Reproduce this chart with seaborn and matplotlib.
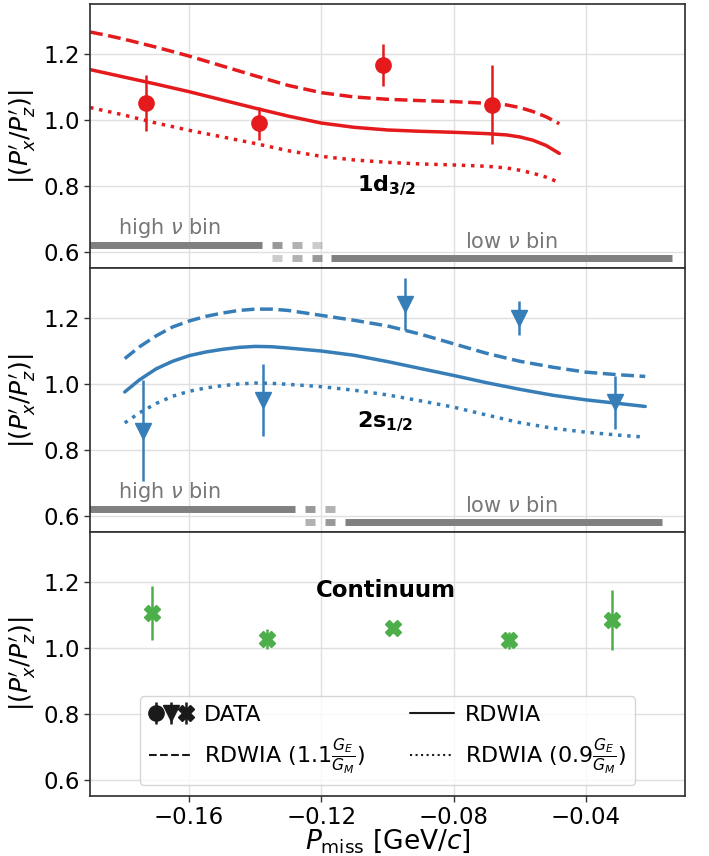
import numpy as np
import pandas as pd
import matplotlib
matplotlib.use('Agg')
import matplotlib.pyplot as plt
import seaborn as sns
from matplotlib.lines import Line2D
from matplotlib.legend_handler import HandlerTuple

# ---- data ----
# 1d3/2 data points
d_pmiss = [-0.173, -0.139, -0.1015, -0.0683]
d_ratio = [1.052, 0.990, 1.166, 1.045]
d_err = [0.085, 0.050, 0.063, 0.120]

# 2s1/2 data points
s_pmiss = [-0.174, -0.1378, -0.0946, -0.0601, -0.0313]
s_ratio = [0.858, 0.950, 1.242, 1.200, 0.944]
s_err = [0.153, 0.110, 0.078, 0.052, 0.080]

# continuum data points
c_pmiss = [-0.1712, -0.1365, -0.0984, -0.0632, -0.0321]
c_ratio = [1.105, 1.027, 1.058, 1.022, 1.085]
c_err = [0.081, 0.030, 0.015, 0.025, 0.091]

# RDWIA curves, 1d3/2
d_curve_x = [-0.190, -0.185, -0.180, -0.170, -0.160, -0.150, -0.140, -0.130, -0.120, -0.110,
             -0.100, -0.090, -0.080, -0.070, -0.064, -0.060, -0.056, -0.052, -0.048]
d_rdwia = [1.152, 1.141, 1.130, 1.108, 1.085, 1.060, 1.035, 1.011, 0.990, 0.977,
           0.969, 0.965, 0.962, 0.958, 0.954, 0.948, 0.938, 0.922, 0.898]
d_rdwia_11 = [1.266, 1.256, 1.245, 1.220, 1.193, 1.163, 1.133, 1.104, 1.082, 1.069,
              1.062, 1.058, 1.055, 1.050, 1.045, 1.037, 1.025, 1.009, 0.988]
d_rdwia_09 = [1.037, 1.026, 1.015, 0.990, 0.968, 0.948, 0.928, 0.906, 0.889, 0.878,
              0.871, 0.866, 0.863, 0.859, 0.854, 0.847, 0.838, 0.826, 0.810]

# RDWIA curves, 2s1/2
s_curve_x = [-0.1795, -0.175, -0.170, -0.165, -0.160, -0.155, -0.150, -0.145, -0.140, -0.135,
             -0.130, -0.120, -0.110, -0.100, -0.090, -0.080, -0.070, -0.060, -0.050, -0.040,
             -0.030, -0.022]
s_rdwia = [0.975, 1.012, 1.045, 1.068, 1.085, 1.096, 1.104, 1.110, 1.113, 1.112,
           1.108, 1.099, 1.086, 1.067, 1.046, 1.025, 1.003, 0.983, 0.965, 0.951,
           0.940, 0.931]
s_rdwia_11 = [1.076, 1.112, 1.145, 1.172, 1.190, 1.204, 1.214, 1.222, 1.226, 1.226,
              1.222, 1.207, 1.192, 1.175, 1.150, 1.121, 1.092, 1.068, 1.050, 1.035,
              1.027, 1.022]
s_rdwia_09 = [0.881, 0.912, 0.940, 0.962, 0.977, 0.987, 0.994, 0.999, 1.002, 1.001,
              0.998, 0.991, 0.980, 0.966, 0.948, 0.929, 0.905, 0.882, 0.865, 0.853,
              0.844, 0.838]

# nu-bin indicator bars: (start, end, alpha)
d_high_bin = [(-0.195, -0.138, 1.0), (-0.1349, -0.1319, 0.8), (-0.1289, -0.1258, 0.6), (-0.1228, -0.1198, 0.4)]
d_low_bin = [(-0.1349, -0.1319, 0.4), (-0.1289, -0.1258, 0.6), (-0.1228, -0.1198, 0.8), (-0.117, -0.014, 1.0)]
s_high_bin = [(-0.195, -0.128, 1.0), (-0.1249, -0.1219, 0.8), (-0.1189, -0.1159, 0.6)]
s_low_bin = [(-0.1249, -0.1219, 0.6), (-0.1189, -0.1159, 0.8), (-0.113, -0.017, 1.0)]

yticks = [0.6, 0.8, 1.0, 1.2]
xticks = [-0.16, -0.12, -0.08, -0.04]

sns.set_theme(style='whitegrid')
plt.rcParams['font.family'] = ['DejaVu Sans']
plt.rcParams['mathtext.fontset'] = 'dejavusans'
plt.rcParams['axes.edgecolor'] = '0.2'
plt.rcParams['axes.linewidth'] = 1.25
plt.rcParams['grid.color'] = '0.88'
for key in ['text.color', 'axes.labelcolor', 'xtick.color', 'ytick.color']:
    plt.rcParams[key] = 'black'

red, blue, green = sns.color_palette('Set1')[:3]

fig, axes = plt.subplots(3, 1, figsize=(7.09, 8.56), dpi=100, sharex=True)
fig.subplots_adjust(left=0.127, right=0.966, bottom=0.070, top=0.995, hspace=0)


def draw_curves(ax, x, y, y11, y09, color):
    df = pd.DataFrame({'x': x, 'y': y, 'y11': y11, 'y09': y09})
    sns.lineplot(data=df, x='x', y='y', ax=ax, color=color, lw=2.5, sort=False)
    sns.lineplot(data=df, x='x', y='y11', ax=ax, color=color, lw=2.5, ls='--', sort=False)
    sns.lineplot(data=df, x='x', y='y09', ax=ax, color=color, lw=2.5, ls=':', sort=False)


def draw_bins(ax, high, low):
    for x0, x1, a in high:
        ax.plot([x0, x1], [0.62, 0.62], color='gray', alpha=a, lw=5, solid_capstyle='butt', zorder=1)
    for x0, x1, a in low:
        ax.plot([x0, x1], [0.58, 0.58], color='gray', alpha=a, lw=5, solid_capstyle='butt', zorder=1)
    ax.text(-0.1816, 0.672, r'high $\nu$ bin', color='#777777', fontsize=15, ha='left', va='center')
    ax.text(-0.0766, 0.629, r'low $\nu$ bin', color='#777777', fontsize=15, ha='left', va='center')


# top: 1d3/2
ax = axes[0]
draw_curves(ax, d_curve_x, d_rdwia, d_rdwia_11, d_rdwia_09, red)
ax.errorbar(d_pmiss, d_ratio, yerr=d_err, fmt='o', color=red, ms=11, elinewidth=1.8, capsize=0, zorder=3)
draw_bins(ax, d_high_bin, d_low_bin)
ax.text(-0.1003, 0.80, r'$\mathbf{1d_{3/2}}$', fontsize=16, ha='center', va='center')

# middle: 2s1/2
ax = axes[1]
draw_curves(ax, s_curve_x, s_rdwia, s_rdwia_11, s_rdwia_09, blue)
ax.errorbar(s_pmiss, s_ratio, yerr=s_err, fmt='v', color=blue, ms=11, elinewidth=1.8, capsize=0, zorder=3)
draw_bins(ax, s_high_bin, s_low_bin)
ax.text(-0.1006, 0.884, r'$\mathbf{2s_{1/2}}$', fontsize=16, ha='center', va='center')

# bottom: continuum
ax = axes[2]
ax.errorbar(c_pmiss, c_ratio, yerr=c_err, fmt='X', color=green, ms=11, elinewidth=1.8, capsize=0, zorder=3)
ax.text(-0.1004, 1.174, 'Continuum', fontsize=16.5, fontweight='bold', ha='center', va='center')

for ax in axes:
    ax.set_xlim(-0.19, -0.01)
    ax.set_ylim(0.55, 1.35)
    ax.set_yticks(yticks)
    ax.set_xticks(xticks)
    ax.set_ylabel(r"$|(P^{\prime}_x/P^{\prime}_z)|$", fontsize=18, labelpad=4)
    ax.set_xlabel('')
    ax.tick_params(axis='both', labelsize=16.5, length=4, width=1, color='0.2', left=True, bottom=True, pad=3)

axes[2].set_xlabel(r'$P_{\rm miss}$ [GeV/$c$]', fontsize=19, labelpad=-1)

# legend
hk = dict(color='k', ms=11, elinewidth=1.8, capsize=0)
e1 = axes[2].errorbar([np.nan], [np.nan], yerr=[np.nan], fmt='o', **hk)
e2 = axes[2].errorbar([np.nan], [np.nan], yerr=[np.nan], fmt='v', **hk)
e3 = axes[2].errorbar([np.nan], [np.nan], yerr=[np.nan], fmt='X', **hk)
l_solid = Line2D([], [], color='k', lw=1.5)
l_dash = Line2D([], [], color='k', lw=1.5, ls='--')
l_dot = Line2D([], [], color='k', lw=1.5, ls=':')
axes[2].legend([(e1, e2, e3), l_dash, l_solid, l_dot],
               ['DATA', r'RDWIA $(1.1\frac{G_E}{G_M})$', 'RDWIA', r'RDWIA $(0.9\frac{G_E}{G_M})$'],
               handler_map={tuple: HandlerTuple(ndivide=None, pad=0)},
               ncol=2, loc='lower center', fontsize=16, frameon=True, handletextpad=0.5)

fig.savefig('out.png', dpi=100)
